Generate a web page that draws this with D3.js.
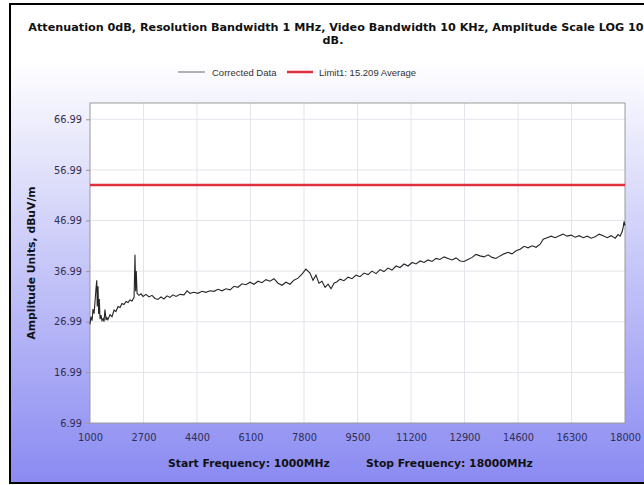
<!DOCTYPE html>
<html>
<head>
<meta charset="utf-8">
<script src="https://cdn.jsdelivr.net/npm/d3@7"></script>
<style>
  body { margin: 0; background: #fff; overflow: hidden; }
  svg { display: block; }
</style>
</head>
<body>
<div id="chart"></div>
<script>
// sweep points (MHz)
const freqs = [
  1000, 1030, 1065, 1095, 1130, 1160, 1190, 1215, 1230, 1255, 1275, 1295, 1320, 1350, 1380, 1415, 1445, 1475, 1510, 1540,
  1570, 1635, 1700, 1765, 1825, 1890, 1955, 2015, 2080, 2145, 2210, 2270, 2335, 2400, 2430, 2450, 2470, 2495, 2555, 2620,
  2685, 2780, 2875, 2970, 3065, 3160, 3255, 3350, 3445, 3540, 3635, 3735, 3860, 3985, 4085, 4180, 4305, 4430, 4560, 4685,
  4815, 4940, 5070, 5195, 5320, 5450, 5575, 5700, 5830, 5955, 6085, 6210, 6340, 6465, 6590, 6720, 6845, 6975, 7100, 7225,
  7355, 7480, 7610, 7735, 7860, 7990, 8085, 8180, 8275, 8370, 8470, 8565, 8660, 8755, 8850, 8945, 9070, 9200, 9325, 9455,
  9580, 9710, 9835, 9960, 10090, 10215, 10340, 10470, 10595, 10725, 10850, 10980, 11105, 11235, 11360, 11490, 11615, 11740, 11870, 11995,
  12120, 12250, 12375, 12505, 12630, 12760, 12885, 13010, 13140, 13265, 13395, 13520, 13650, 13775, 13900, 14030, 14155, 14285, 14410, 14540,
  14665, 14795, 14920, 15050, 15175, 15305, 15400, 15525, 15655, 15780, 15910, 16035, 16160, 16290, 16415, 16545, 16670, 16800, 16925, 17050,
  17180, 17305, 17435, 17560, 17690, 17780, 17845, 17910, 17940, 17970, 18000
];
// corrected data, dBuV/m
const levels = [
  26.5, 28.0, 27.2, 29.5, 28.6, 31.0, 33.5, 35.2, 30.0, 34.0, 28.5, 31.5, 27.5, 28.3, 27.2, 27.6, 27.0, 29.4, 27.3, 27.8,
  27.4, 28.4, 28.0, 29.3, 29.0, 30.0, 29.8, 30.6, 30.4, 31.0, 30.8, 31.3, 31.1, 31.8, 40.2, 33.0, 37.0, 32.6, 32.2, 32.5,
  32.0, 32.4, 31.9, 32.2, 31.6, 31.4, 31.9, 31.5, 32.1, 31.8, 32.3, 32.0, 32.4, 32.3, 33.1, 32.6, 32.8, 32.6, 33.0, 32.8,
  33.1, 33.0, 33.4, 33.1, 33.5, 33.3, 34.0, 33.8, 34.5, 34.3, 34.8, 34.4, 35.0, 34.7, 35.3, 35.0, 35.5, 34.6, 34.2, 34.8,
  34.4, 35.2, 35.6, 36.4, 37.4, 36.6, 35.2, 36.2, 34.6, 35.0, 33.8, 34.4, 33.5, 34.6, 34.9, 35.4, 35.1, 35.8, 35.5, 36.2,
  35.9, 36.6, 36.3, 37.0, 36.5, 37.3, 36.9, 37.6, 37.2, 38.0, 37.7, 38.4, 38.0, 38.7, 38.4, 39.0, 38.7, 39.2, 38.9, 39.5,
  39.3, 39.8, 39.5, 39.2, 39.6, 39.0, 38.9, 39.3, 39.7, 40.3, 40.0, 39.8, 40.2, 39.7, 39.5, 40.0, 40.4, 40.7, 40.4, 41.0,
  41.3, 41.9, 41.6, 42.0, 41.7, 42.3, 43.3, 43.6, 43.9, 43.6, 44.0, 44.3, 43.9, 44.1, 43.7, 44.0, 43.6, 43.9, 43.5, 43.8,
  44.3, 44.0, 43.6, 44.0, 43.5, 44.2, 43.9, 44.8, 45.6, 46.8, 46.0
];
const limitLevel = 54.0;
const yTicks = [6.99, 16.99, 26.99, 36.99, 46.99, 56.99, 66.99];
const xTicks = [1000, 2700, 4400, 6100, 7800, 9500, 11200, 12900, 14600, 16300, 18000];
const legendLabels = ["Corrected Data", "Limit1: 15.209 Average"];

const width = 644, height = 485;
const plot = {left: 90, right: 625, top: 103, bottom: 423};

const svg = d3.select("#chart").append("svg")
    .attr("width", width)
    .attr("height", height);

const defs = svg.append("defs");
const grad = defs.append("linearGradient")
    .attr("id", "bg")
    .attr("x1", 0).attr("y1", 0).attr("x2", 0).attr("y2", 1);
grad.append("stop").attr("offset", "0%").attr("stop-color", "#ffffff");
grad.append("stop").attr("offset", "12%").attr("stop-color", "#ffffff");
grad.append("stop").attr("offset", "100%").attr("stop-color", "#8a8af2");

// frame
svg.append("rect")
    .attr("x", 10).attr("y", 4)
    .attr("width", 700).attr("height", 479)
    .attr("fill", "url(#bg)")
    .attr("stroke", "#000")
    .attr("stroke-width", 2);

const x = d3.scaleLinear().domain([1000, 18000]).range([plot.left, plot.right]);
const y = d3.scaleLinear().domain([6.99, 70.2]).range([plot.bottom, plot.top]);

svg.append("rect")
    .attr("x", plot.left).attr("y", plot.top)
    .attr("width", plot.right - plot.left)
    .attr("height", plot.bottom - plot.top)
    .attr("fill", "#fff");

// grid
svg.append("g").selectAll("line")
    .data(xTicks.slice(1, -1))
    .enter().append("line")
    .attr("x1", d => x(d)).attr("x2", d => x(d))
    .attr("y1", plot.top).attr("y2", plot.bottom)
    .attr("stroke", "#e4e4ec");
svg.append("g").selectAll("line")
    .data(yTicks.slice(1))
    .enter().append("line")
    .attr("x1", plot.left).attr("x2", plot.right)
    .attr("y1", d => y(d)).attr("y2", d => y(d))
    .attr("stroke", "#e4e4ec");

// axes
const yAxis = svg.append("g")
    .attr("transform", "translate(" + plot.left + ",0)")
    .call(d3.axisLeft(y).tickValues(yTicks).tickFormat(d => d.toFixed(2)).tickSizeOuter(0).tickSize(4));
const xAxis = svg.append("g")
    .attr("transform", "translate(0," + plot.bottom + ")")
    .call(d3.axisBottom(x).tickValues(xTicks).tickFormat(d3.format("d")).tickSizeOuter(0).tickSize(0));

[yAxis, xAxis].forEach(a => {
  a.select(".domain").remove();
  a.selectAll(".tick line").attr("stroke", "#999");
  a.selectAll("text")
      .attr("fill", "#2e2e55")
      .style("font-family", "DejaVu Sans, Verdana, sans-serif")
      .style("font-size", "9.8px");
});
yAxis.selectAll("text").attr("x", -8);
xAxis.selectAll("text").attr("dy", "1.55em");

// plot border
svg.append("rect")
    .attr("x", plot.left).attr("y", plot.top)
    .attr("width", plot.right - plot.left)
    .attr("height", plot.bottom - plot.top)
    .attr("fill", "none")
    .attr("stroke", "#9a9a9a");

// limit line
svg.append("line")
    .attr("x1", plot.left).attr("x2", plot.right)
    .attr("y1", y(limitLevel)).attr("y2", y(limitLevel))
    .attr("stroke", "#e0303e")
    .attr("stroke-width", 2.5);

// data trace
const line = d3.line()
    .x((d, i) => x(freqs[i]))
    .y(d => y(d));
svg.append("path")
    .datum(levels)
    .attr("d", line)
    .attr("fill", "none")
    .attr("stroke", "#262626")
    .attr("stroke-width", 1.1);

// title
const title = svg.append("g")
    .style("font-family", "DejaVu Sans, Verdana, sans-serif")
    .style("font-weight", "bold")
    .style("font-size", "11.2px")
    .attr("fill", "#111")
    .attr("text-anchor", "middle");
title.append("text")
    .attr("x", 336).attr("y", 31)
    .text("Attenuation 0dB, Resolution Bandwidth 1 MHz, Video Bandwidth 10 KHz, Amplitude Scale LOG 10");
title.append("text")
    .attr("x", 333).attr("y", 44)
    .text("dB.");

// legend
const legend = svg.append("g")
    .style("font-family", "Liberation Sans, Arial, sans-serif")
    .style("font-size", "9.5px")
    .attr("fill", "#333");
legend.append("line")
    .attr("x1", 178).attr("x2", 205).attr("y1", 72).attr("y2", 72)
    .attr("stroke", "#666").attr("stroke-width", 1);
legend.append("text").attr("x", 212).attr("y", 75.5).text(legendLabels[0]);
legend.append("line")
    .attr("x1", 287).attr("x2", 313).attr("y1", 72).attr("y2", 72)
    .attr("stroke", "#e0303e").attr("stroke-width", 2.5);
legend.append("text").attr("x", 319).attr("y", 75.5).text(legendLabels[1]);

// axis titles
const axisTitleStyle = sel => sel
    .style("font-family", "DejaVu Sans, Verdana, sans-serif")
    .style("font-weight", "bold")
    .style("font-size", "10.8px")
    .attr("fill", "#111");

svg.append("text")
    .call(axisTitleStyle)
    .attr("transform", "translate(35," + ((plot.top + plot.bottom) / 2) + ") rotate(-90)")
    .attr("text-anchor", "middle")
    .text("Amplitude Units, dBuV/m");

svg.append("text")
    .call(axisTitleStyle)
    .attr("x", 168).attr("y", 467)
    .text("Start Frequency: 1000MHz");
svg.append("text")
    .call(axisTitleStyle)
    .attr("x", 366).attr("y", 467)
    .text("Stop Frequency: 18000MHz");
</script>
</body>
</html>
